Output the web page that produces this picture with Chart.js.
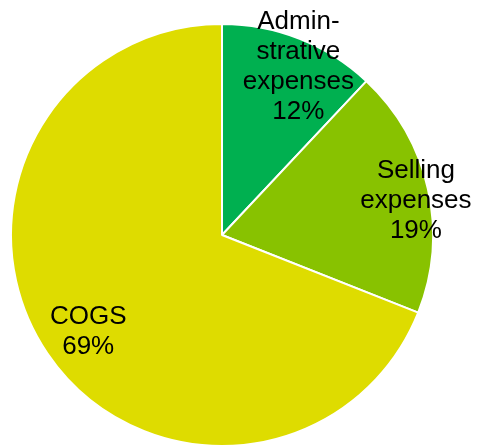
<!DOCTYPE html>
<html>
<head>
<meta charset="utf-8">
<script src="https://cdn.jsdelivr.net/npm/chart.js@4/dist/chart.umd.min.js"></script>
<style>
    html, body { margin: 0; padding: 0; background: #ffffff; }
    #wrap { width: 478px; height: 447px; }
</style>
</head>
<body>
<div id="wrap"><canvas id="costChart" width="478" height="447"></canvas></div>
<script>
// Cost split (share of total, %)
const categories = [
    ['Admin-', 'strative', 'expenses'],
    ['Selling', 'expenses'],
    ['COGS']
];
const shares = [12, 19, 69];
const sliceColors = ['#00b050', '#88c200', '#dedc00'];

// Where each label sits: fraction of the radius, and a small turn off the slice middle (degrees)
const labelRadius = [0.883, 0.935, 0.776];
const labelTurn = [2.6, 2.0, -1.0];

// Draw category + percent text over each slice
const sliceLabels = {
    id: 'sliceLabels',
    afterDatasetsDraw(chart) {
        const ctx = chart.ctx;
        const meta = chart.getDatasetMeta(0);
        const values = chart.data.datasets[0].data;
        const total = values.reduce((a, b) => a + b, 0);
        const fontSize = 26;
        const lineHeight = 30;

        ctx.save();
        ctx.font = fontSize + 'px "Liberation Sans", Arial, sans-serif';
        ctx.fillStyle = '#000000';
        ctx.textAlign = 'center';
        ctx.textBaseline = 'alphabetic';

        meta.data.forEach(function(arc, i) {
            const p = arc.getProps(['x', 'y', 'startAngle', 'endAngle', 'outerRadius'], true);
            const mid = (p.startAngle + p.endAngle) / 2 + labelTurn[i] * Math.PI / 180;
            const r = p.outerRadius * labelRadius[i];
            const cx = p.x + Math.cos(mid) * r;
            const cy = p.y + Math.sin(mid) * r;

            const lines = categories[i].concat([Math.round(values[i] / total * 100) + '%']);
            const firstBase = cy - (lines.length - 1) * lineHeight / 2 + fontSize * 0.716 / 2;
            lines.forEach(function(txt, k) {
                ctx.fillText(txt, cx, firstBase + k * lineHeight);
            });
        });
        ctx.restore();
    }
};

document.addEventListener('DOMContentLoaded', function() {
    const ctx = document.getElementById('costChart').getContext('2d');
    new Chart(ctx, {
        type: 'pie',
        data: {
            labels: categories.map(c => c.join(' ')),
            datasets: [{
                data: shares,
                backgroundColor: sliceColors,
                borderColor: '#ffffff',
                borderWidth: 2
            }]
        },
        options: {
            responsive: false,
            animation: false,
            layout: {
                padding: { left: 10, right: 44, top: 23, bottom: 0 }
            },
            plugins: {
                legend: { display: false },
                tooltip: { enabled: false }
            }
        },
        plugins: [sliceLabels]
    });
});
</script>
</body>
</html>
